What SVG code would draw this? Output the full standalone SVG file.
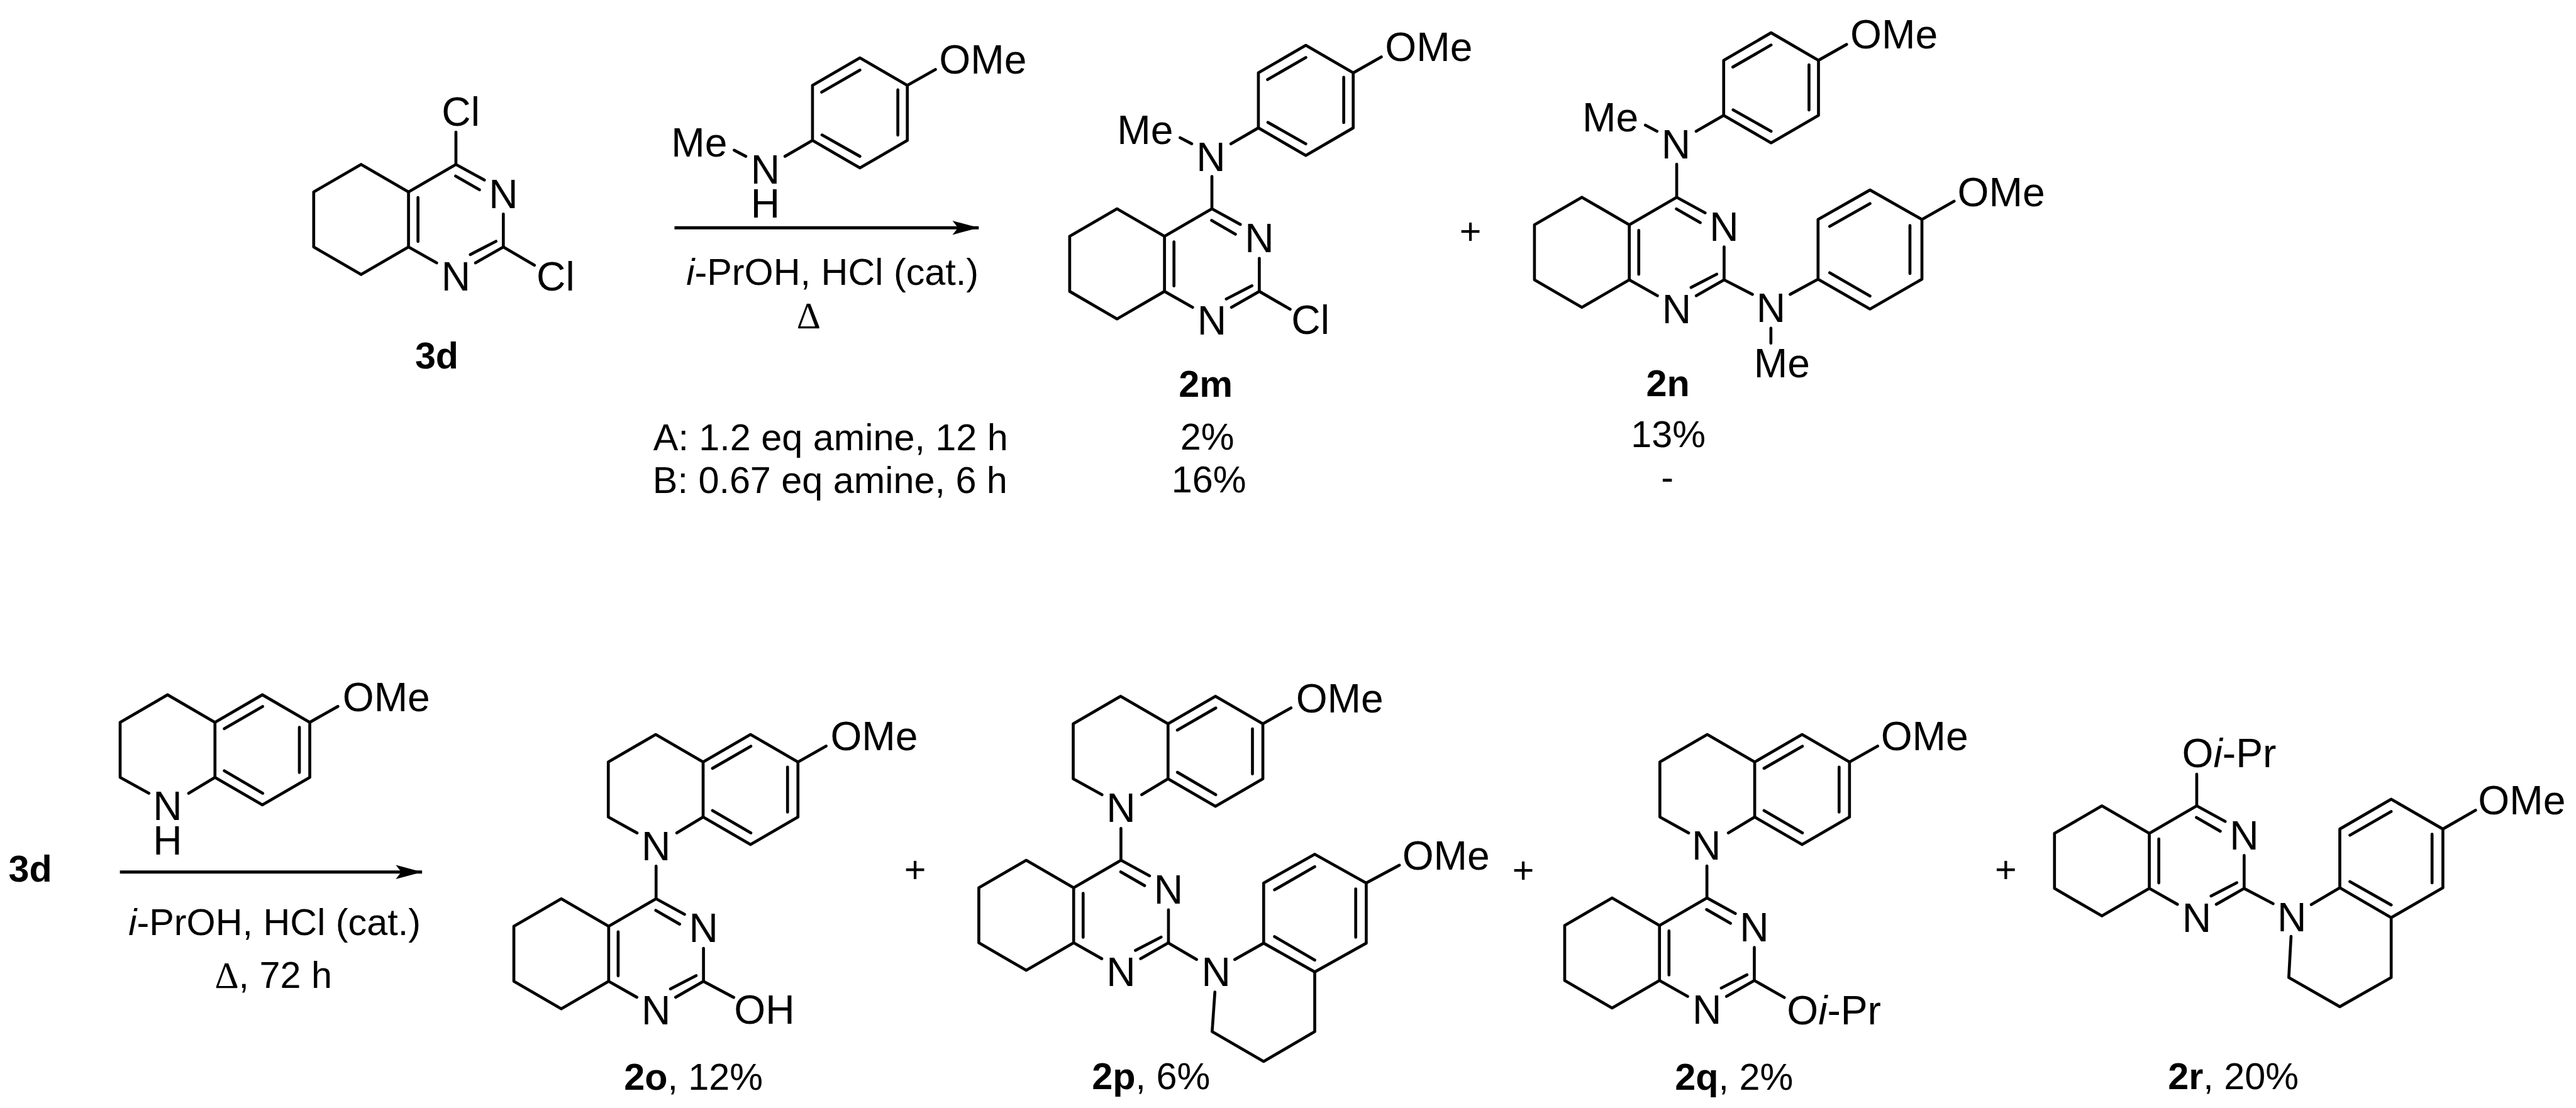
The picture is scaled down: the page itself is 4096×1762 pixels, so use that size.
<svg xmlns="http://www.w3.org/2000/svg" width="4096" height="1762" viewBox="0 0 4096 1762">
<style>
.b{fill:none;stroke:#000;stroke-width:4.8;stroke-linejoin:round;stroke-linecap:round}
text{font-family:"Liberation Sans",Arial,sans-serif;fill:#000}
.a{font-size:66px}
.m{text-anchor:middle}
.l{font-size:61px}
.h{font-weight:bold}
.d{font-family:"Liberation Serif","Times New Roman",serif}
</style>
<defs>
<path id="sk" class="b" d="M-155 0L-77.5-45L0 0V90L-77.5 135L-155 90ZM0 0L77.5-45L124-19.5M77-26L116-3.5M155 36V90L109.5 116M143 80.7L101 102.4M0 90L46 116M15.5 9V81"/>
<path id="qn" class="b" d="M0 0V90L-43 116M0 0L77.5-45L155 0V90L77.5 135L0 90M0 0L-77.5-45L-155 0V90L-108 116M15.3 10.4L78-25.8M138 8.2V82M15.3 79.3L78 116M155 0L201-26"/>
<path id="an" class="b" d="M0 0V-90L77.5-135L155-90V0L77.5 45ZM15-79L77.5-115M139.5-82.7V-8.7M15.5-9L77.5 26M155-90L201-116M0 0L-45 26M-128 16L-109 26"/>
<marker id="arrowhead" markerUnits="userSpaceOnUse" markerWidth="46" markerHeight="26" refX="43" refY="13" orient="auto">
<path d="M0 1.5L43 13L0 24.5L9 13Z" fill="#000"/>
</marker>
</defs>
<g transform="scale(0.97269)">
<g id="connectors">
<path d="M1102.6 372.4H1600" fill="none" stroke="#000" stroke-width="5" marker-end="url(#arrowhead)"/>
<path d="M196 1425.7H690" fill="none" stroke="#000" stroke-width="5" marker-end="url(#arrowhead)"/>
</g>

<g id="mol-3d">
<use href="#sk" x="667.8" y="313.8"/>
<path class="b" d="M745.3 268.8V216M822.8 403.8L873.6 433.7"/>
<text class="a m" x="822.8" y="339.8">N</text>
<text class="a m" x="745.3" y="474.8">N</text>
<text class="a" x="722" y="206">Cl</text>
<text class="a" x="877" y="474.5">Cl</text>
<text class="l h m" x="714" y="602">3d</text>
</g>

<g id="mol-amine">
<use href="#an" x="1328.2" y="229.6"/>
<text class="a" x="1535.2" y="120.6">OMe</text>
<text class="a" x="1097.2" y="255.6">Me</text>
<text class="a m" x="1251" y="300">N</text>
<text class="a m" x="1251" y="356">H</text>
</g>

<g id="conditions-1">
<text class="l" x="1122" y="465.8"><tspan font-style="italic">i</tspan>-PrOH, HCl (cat.)</text>
<text class="l d m" x="1322" y="537">Δ</text>
<text class="l" x="1068" y="736.2">A: 1.2 eq amine, 12 h</text>
<text class="l" x="1067" y="806">B: 0.67 eq amine, 6 h</text>
</g>

<g id="mol-2m">
<use href="#sk" x="1903.6" y="386.4"/>
<use href="#an" x="2057.1" y="209.1"/>
<path class="b" d="M1981.1 341.4V288.5M2058.6 476.4L2109 505.6"/>
<text class="a" x="2264.1" y="100">OMe</text>
<text class="a" x="1826.1" y="235">Me</text>
<text class="a m" x="1979.5" y="279.5">N</text>
<text class="a m" x="2058.6" y="412.4">N</text>
<text class="a m" x="1981.1" y="547.4">N</text>
<text class="a" x="2111" y="546.3">Cl</text>
<text class="l h m" x="1971" y="648.5">2m</text>
<text class="l m" x="1973.5" y="734.8">2%</text>
<text class="l m" x="1976" y="804.7">16%</text>
</g>

<text id="plus-1" class="l m" x="2403.8" y="399">+</text>

<g id="mol-2n">
<use href="#sk" x="2663.4" y="367.5"/>
<use href="#an" x="2817.7" y="188.6"/>
<path class="b" d="M2740.9 322.5V268.3M2818.4 457.5L2864.7 481.3M2926.4 481.3L2972 456.4V358.8L3056.9 310.6L3141.8 358.8V456.4L3056.9 505.2L2972 456.4M2991 370.2L3056.9 332.8M3122.2 368.6V447.2M2991 446L3056.9 484M3141.8 358.8L3194.4 329M2894.9 536.6V561"/>
<text class="a" x="3024.7" y="79.6">OMe</text>
<text class="a" x="2586.7" y="215">Me</text>
<text class="a m" x="2739.8" y="259">N</text>
<text class="a m" x="2818.4" y="393.5">N</text>
<text class="a m" x="2740.9" y="528.5">N</text>
<text class="a m" x="2894.9" y="526.8">N</text>
<text class="a" x="3200" y="337.1">OMe</text>
<text class="a" x="2867" y="616.8">Me</text>
<text class="l h m" x="2726.7" y="647.7">2n</text>
<text class="l m" x="2727" y="730.6">13%</text>
<text class="l m" x="2725.5" y="800.5">-</text>
</g>

<text id="label-3d" class="l h" x="14" y="1441.7">3d</text>

<g id="mol-thq">
<use href="#qn" x="351.4" y="1180.9"/>
<text class="a" x="560" y="1162.5">OMe</text>
<text class="a m" x="274" y="1341">N</text>
<text class="a m" x="274" y="1397">H</text>
</g>

<g id="conditions-2">
<text class="l" x="210" y="1529"><tspan font-style="italic">i</tspan>-PrOH, HCl (cat.)</text>
<text class="l" x="351" y="1614.7"><tspan class="d">Δ</tspan>, 72 h</text>
</g>

<g id="mol-2o">
<use href="#qn" x="1149.4" y="1245.8"/>
<use href="#sk" x="995" y="1514.4"/>
<path class="b" d="M1072.5 1469.4V1416M1150 1604.4L1199.4 1630.7"/>
<text class="a" x="1357.5" y="1227">OMe</text>
<text class="a m" x="1072.5" y="1406">N</text>
<text class="a m" x="1150" y="1540.4">N</text>
<text class="a m" x="1072.5" y="1675">N</text>
<text class="a" x="1200" y="1674">OH</text>
<text class="l" x="1020" y="1782"><tspan class="h">2o</tspan>, 12%</text>
</g>

<text id="plus-2" class="l m" x="1496" y="1442">+</text>

<g id="mol-2p">
<use href="#qn" x="1909.4" y="1183.3"/>
<use href="#sk" x="1755.1" y="1451.4"/>
<path class="b" d="M1832.4 1406.4V1354.4M1909.4 1541.4L1956 1568.7M2018.5 1568.7L2065.7 1542V1443.6L2149.2 1396.6L2233.4 1443.6V1542L2149.2 1589L2065.7 1542M2083.5 1454.8L2149.2 1417M2216.2 1453.3V1532.3M2083.5 1531.3L2149.2 1569.6M2233.4 1443.6L2287.6 1414.5M2149.2 1589V1686.5L2065.7 1735.4L1981.5 1686.5L1986 1622"/>
<text class="a" x="2118.5" y="1164.9">OMe</text>
<text class="a m" x="1832.4" y="1343.3">N</text>
<text class="a m" x="1910.1" y="1477.4">N</text>
<text class="a m" x="1832.4" y="1612.4">N</text>
<text class="a m" x="1987.9" y="1612.3">N</text>
<text class="a" x="2292.3" y="1422.3">OMe</text>
<text class="l" x="1785" y="1781"><tspan class="h">2p</tspan>, 6%</text>
</g>

<text id="plus-3" class="l m" x="2490" y="1443">+</text>

<g id="mol-2q">
<use href="#qn" x="2868.4" y="1245.8"/>
<use href="#sk" x="2712.8" y="1513"/>
<path class="b" d="M2790.3 1468V1415.7M2867.8 1603L2916.8 1630.8"/>
<text class="a" x="3074.6" y="1227">OMe</text>
<text class="a m" x="2789.3" y="1405.7">N</text>
<text class="a m" x="2867.8" y="1539">N</text>
<text class="a m" x="2790.3" y="1674">N</text>
<text class="a" x="2921" y="1674.3">O<tspan font-style="italic">i</tspan>-Pr</text>
<text class="l" x="2738" y="1781.6"><tspan class="h">2q</tspan>, 2%</text>
</g>

<text id="plus-4" class="l m" x="3278.8" y="1442">+</text>

<g id="mol-2r">
<use href="#sk" x="3513.5" y="1362.5"/>
<path class="b" d="M3591 1317.5V1265.7M3668.5 1452.5L3715.8 1477.4M3778.3 1479L3824.9 1451.4V1355.4L3908.9 1306.6L3993.4 1355.4V1451.4L3908.9 1500.2L3824.9 1451.4M3841.4 1365.5L3908.9 1326.8M3975.7 1363.8V1443.4M3841.4 1441.3L3908.9 1479.5M3993.4 1355.4L4046.8 1324.7M3908.9 1500.2V1598.2L3824.9 1645.8L3741.5 1598.2L3745.2 1530.9"/>
<text class="a" x="3567" y="1254.4">O<tspan font-style="italic">i</tspan>-Pr</text>
<text class="a m" x="3668.5" y="1388.5">N</text>
<text class="a m" x="3591" y="1523.5">N</text>
<text class="a m" x="3746.4" y="1522.5">N</text>
<text class="a" x="4051" y="1331.8">OMe</text>
<text class="l" x="3544" y="1780.5"><tspan class="h">2r</tspan>, 20%</text>
</g>
</g>
</svg>
